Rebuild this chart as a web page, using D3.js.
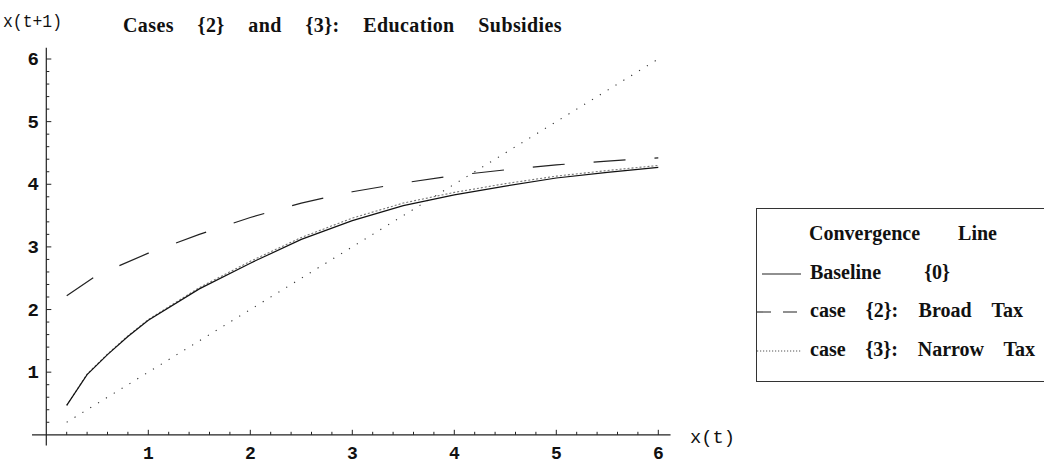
<!DOCTYPE html>
<html><head><meta charset="utf-8">
<script src="https://cdn.jsdelivr.net/npm/d3@7"></script>
<style>
html,body{margin:0;padding:0;background:#fff;}
svg text{fill:#111;}
</style></head>
<body><svg id="c" width="1044" height="463"></svg>
<script>
// ---- data ----
const xTicks = [1, 2, 3, 4, 5, 6];
const yTicks = [1, 2, 3, 4, 5, 6];
const baselineX = [0.2, 0.4, 0.6, 0.8, 1.0, 1.5, 2.0, 2.5, 3.0, 3.5, 4.0, 4.5, 5.0, 5.5, 6.0];
const baselineY = [0.47, 0.96, 1.28, 1.57, 1.83, 2.33, 2.74, 3.12, 3.42, 3.66, 3.83, 3.97, 4.10, 4.19, 4.27];
const case2X = [0.2, 0.5, 1.0, 1.5, 2.0, 2.5, 3.0, 3.5, 4.0, 4.5, 5.0, 5.5, 6.0];
const case2Y = [2.22, 2.55, 2.90, 3.20, 3.47, 3.70, 3.88, 4.02, 4.14, 4.23, 4.31, 4.37, 4.42];
const case3X = [0.2, 0.4, 0.6, 0.8, 1.0, 1.5, 2.0, 2.5, 3.0, 3.5, 4.0, 4.5, 5.0, 5.5, 6.0];
const case3Y = [0.47, 0.97, 1.29, 1.58, 1.84, 2.35, 2.77, 3.15, 3.46, 3.70, 3.87, 4.01, 4.13, 4.22, 4.30];
const convX = [0.2, 6.0];
const convY = [0.2, 6.0];
const title = "Cases {2} and {3}: Education Subsidies";
const yLabel = "x(t+1)";
const xLabel = "x(t)";
const legendTitle = "Convergence Line";
const legendNames = ["Baseline {0}", "case {2}: Broad Tax", "case {3}: Narrow Tax"];

// ---- layout ----
const svg = d3.select("#c");
const x = d3.scaleLinear().domain([0, 6]).range([46.3, 658.3]);
const y = d3.scaleLinear().domain([0, 6]).range([434.8, 59]);
const mono = "'Liberation Mono', 'DejaVu Sans Mono', monospace";
const serif = "'Liberation Serif', 'DejaVu Serif', serif";

// fit a text to a target width by adjusting word spacing
function fitWords(sel, target) {
  const node = sel.node();
  const w = node.getComputedTextLength();
  const n = (sel.text().match(/ /g) || []).length;
  if (n > 0) sel.attr("word-spacing", Math.max(0, (target - w) / n));
  return sel;
}

// axes lines
svg.append("line").attr("x1", x(-0.14)).attr("x2", x(6.12)).attr("y1", y(0)).attr("y2", y(0))
  .attr("stroke", "#222").attr("stroke-width", 1.2);
svg.append("line").attr("x1", x(0)).attr("x2", x(0)).attr("y1", y(-0.17)).attr("y2", y(6.18))
  .attr("stroke", "#222").attr("stroke-width", 1.2);

// ticks
const minor = d3.range(0.2, 6.01, 0.2).map(v => +v.toFixed(1));
const isMajor = v => Math.abs(v - Math.round(v)) < 1e-6;
svg.append("g").selectAll("line").data(minor).join("line")
  .attr("x1", d => x(d)).attr("x2", d => x(d))
  .attr("y1", y(0)).attr("y2", d => y(0) - (isMajor(d) ? 5 : 3))
  .attr("stroke", "#222").attr("stroke-width", 1);
svg.append("g").selectAll("line").data(minor).join("line")
  .attr("y1", d => y(d)).attr("y2", d => y(d))
  .attr("x1", x(0)).attr("x2", d => x(0) + (isMajor(d) ? 5 : 3))
  .attr("stroke", "#222").attr("stroke-width", 1);

svg.append("g").selectAll("text").data(xTicks).join("text")
  .attr("x", d => x(d)).attr("y", 459).attr("text-anchor", "middle")
  .attr("font-family", mono).attr("font-size", 18).attr("font-weight", "bold").text(d => d);
svg.append("g").selectAll("text").data(yTicks).join("text")
  .attr("x", 39).attr("y", d => y(d) + 6).attr("text-anchor", "end")
  .attr("font-family", mono).attr("font-size", 19).attr("font-weight", "bold").text(d => d);

// labels
svg.append("text").attr("x", 3).attr("y", 27).attr("font-family", mono).attr("font-size", 19)
  .attr("textLength", 59).attr("lengthAdjust", "spacingAndGlyphs").text(yLabel);
svg.append("text").attr("x", 690).attr("y", 443).attr("font-family", mono).attr("font-size", 19)
  .attr("textLength", 45).attr("lengthAdjust", "spacingAndGlyphs").text(xLabel);
fitWords(svg.append("text").attr("x", 123).attr("y", 32).attr("font-family", serif).attr("font-size", 20)
  .attr("font-weight", "bold").attr("letter-spacing", 0.4).text(title), 439);

// curves
const line = d3.line().x(d => x(d[0])).y(d => y(d[1]));
const zipXY = (a, b) => a.map((v, i) => [v, b[i]]);
svg.append("path").datum(zipXY(convX, convY)).attr("d", line).attr("fill", "none")
  .attr("stroke", "#333").attr("stroke-width", 1.1).attr("stroke-dasharray", "1.2,8");
svg.append("path").datum(zipXY(case3X, case3Y)).attr("d", line).attr("fill", "none")
  .attr("stroke", "#777").attr("stroke-width", 1.1).attr("stroke-dasharray", "2,2");
svg.append("path").datum(zipXY(baselineX, baselineY)).attr("d", line).attr("fill", "none")
  .attr("stroke", "#111").attr("stroke-width", 1.2);
svg.append("path").datum(zipXY(case2X, case2Y)).attr("d", line).attr("fill", "none")
  .attr("stroke", "#222").attr("stroke-width", 1.2).attr("stroke-dasharray", "32,29");

// legend
svg.append("rect").attr("x", 756.5).attr("y", 208.5).attr("width", 300).attr("height", 173)
  .attr("fill", "none").attr("stroke", "#333").attr("stroke-width", 1);
fitWords(svg.append("text").attr("x", 809).attr("y", 240).attr("font-family", serif).attr("font-size", 20)
  .attr("font-weight", "bold").attr("letter-spacing", 0).text(legendTitle), 188);
const rowsY = [279, 317, 356];
const widths = [140, 213, 225];
const dashes = [null, "14,12", "1.2,1.8"];
const sampleX1 = [762, 757, 757];
legendNames.forEach((n, i) => {
  fitWords(svg.append("text").attr("x", 810).attr("y", rowsY[i]).attr("font-family", serif).attr("font-size", 20)
    .attr("font-weight", "bold").attr("letter-spacing", 0).text(n), widths[i]);
  svg.append("line").attr("x1", sampleX1[i]).attr("x2", 801).attr("y1", rowsY[i] - 5).attr("y2", rowsY[i] - 5)
    .attr("stroke", i === 2 ? "#555" : "#222").attr("stroke-width", 1.1)
    .attr("stroke-dasharray", dashes[i]);
});
</script></body></html>
